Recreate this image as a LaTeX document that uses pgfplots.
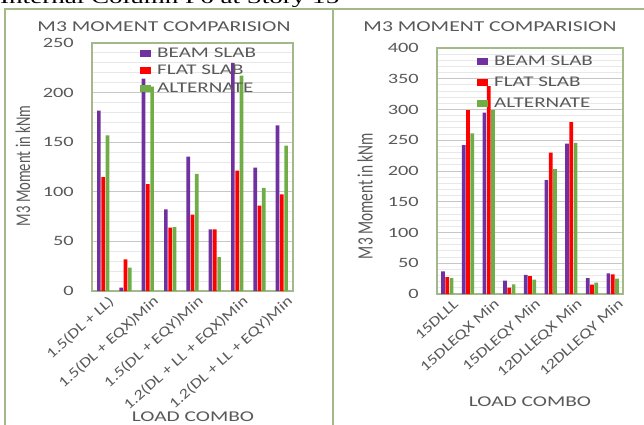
\documentclass[border=0pt]{standalone}
\usepackage{fontspec}
\setmainfont{Carlito}
\newfontfamily\wide[FakeStretch=1.43]{Carlito}
\newfontfamily\narrow[FakeStretch=0.7]{Carlito}
\newfontfamily\diag[FakeStretch=1.25]{Carlito}
\newfontfamily\serifw[FakeStretch=1.43]{Liberation Serif}
\usepackage{pgfplots}
\pgfplotsset{compat=1.18}
\definecolor{cpurple}{HTML}{7030A0}
\definecolor{cred}{HTML}{FF0000}
\definecolor{cgreen}{HTML}{70AD47}
\definecolor{framec}{RGB}{163,185,138}
\definecolor{txt}{HTML}{595959}
\pgfplotsset{
  mystyle/.style={
    scale only axis, anchor=south west,
    xmin=0.5, xmax=9.5, xtick={1,3,5,7,9},
    ymin=0,
    ybar=0.6bp, bar width=3.7bp,
    major tick length=0pt, minor tick length=0pt,
    ymajorgrids, yminorgrids, minor y tick num=4,
    major grid style={black!22, line width=1bp},
    minor grid style={black!9, line width=1bp},
    axis line style={framec, line width=1.3bp},
    /pgf/number format/assume math mode=true,
    yticklabel style={font=\wide\fontsize{14.3}{14.3}\selectfont, text=txt, inner sep=0pt, anchor=east, xshift=-18bp},
    xticklabel style={font=\diag\fontsize{14.5}{14.5}\selectfont, text=txt, rotate=42, anchor=east, inner sep=1bp, xshift=2bp, yshift=-12bp},
    legend style={draw=none, fill=none, anchor=north west, inner sep=0pt,
      font=\wide\fontsize{14.8}{14.8}\selectfont, text=txt, legend cell align=left},
    legend image code/.code={\fill[##1] (0bp,-3.5bp) rectangle (11bp,3.5bp); \path (15bp,0bp);},
  }
}
\begin{document}
\begin{tikzpicture}[x=1bp,y=1bp]
\useasboundingbox (0,0) rectangle (644,424);
\node[anchor=base west, font=\serifw\fontsize{19}{19}\selectfont, inner sep=0pt] at (0,420.5) {Internal Column F6 at Story 15};
\draw[framec, line width=2.4bp] (5,-10) -- (5,415) -- (660,415);
\draw[framec, line width=2.4bp] (333,-10) -- (333,415);
% ---------- left chart
\node[font=\wide\fontsize{15.2}{15.2}\selectfont, text=txt] at (164,397) {M3 MOMENT COMPARISION};
\node[font=\narrow\fontsize{21}{21}\selectfont, text=txt, rotate=90] at (23,258) {M3 Moment in kNm};
\node[font=\wide\fontsize{15}{15}\selectfont, text=txt] at (193,7) {LOAD COMBO};
\begin{axis}[mystyle, at={(92bp,133bp)}, width=201bp, height=248bp,
  ymax=250, ytick={0,50,...,250},
  xticklabels={1.5(DL + LL),1.5(DL + EQX)Min,1.5(DL + EQY)Min,1.2(DL + LL + EQX)Min,1.2(DL + LL + EQY)Min},
  legend style={at={(0.239,0.99)}, row sep=2.6bp}]
\addplot[fill=cpurple, draw=none] coordinates {(1,181.8) (2,3.4) (3,214) (4,82.4) (5,135.5) (6,62.2) (7,230) (8,124.3) (9,167)};
\addplot[fill=cred, draw=none] coordinates {(1,114.9) (2,32) (3,107.8) (4,63.9) (5,77) (6,62.2) (7,121.3) (8,86.1) (9,97.3)};
\addplot[fill=cgreen, draw=none] coordinates {(1,156.8) (2,23.6) (3,206) (4,64.5) (5,118) (6,34.1) (7,217) (8,104) (9,146.6)};
\legend{BEAM SLAB, FLAT SLAB, ALTERNATE}
\end{axis}
% ---------- right chart
\node[font=\wide\fontsize{15.2}{15.2}\selectfont, text=txt] at (490,397) {M3 MOMENT COMPARISION};
\node[font=\narrow\fontsize{22}{22}\selectfont, text=txt, rotate=90] at (365,228) {M3 Moment in kNm};
\node[font=\wide\fontsize{15}{15}\selectfont, text=txt] at (530,22) {LOAD COMBO};
\begin{axis}[mystyle, at={(437bp,130bp)}, width=186bp, height=246bp,
  ymax=400, ytick={0,50,...,400},
  xticklabels={15DLLL,15DLEQX Min,15DLEQY Min,12DLLEQX Min,12DLLEQY Min},
  legend style={at={(0.215,0.978)}, row sep=6.2bp}]
\addplot[fill=cpurple, draw=none] coordinates {(1,36.8) (2,242) (3,295) (4,21.7) (5,30.9) (6,185) (7,244.7) (8,26) (9,33.6)};
\addplot[fill=cred, draw=none] coordinates {(1,27.6) (2,298.9) (3,338) (4,10.3) (5,29.2) (6,230) (7,279.4) (8,15.2) (9,32)};
\addplot[fill=cgreen, draw=none] coordinates {(1,26) (2,261) (3,299.4) (4,15.7) (5,23.3) (6,203) (7,245.8) (8,18.4) (9,24.9)};
\legend{BEAM SLAB, FLAT SLAB, ALTERNATE}
\end{axis}
\end{tikzpicture}
\end{document}
